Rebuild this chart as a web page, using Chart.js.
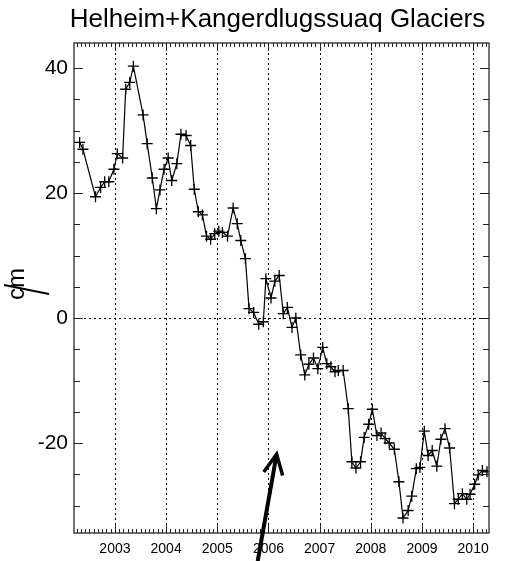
<!DOCTYPE html>
<html>
<head>
<meta charset="utf-8">
<script src="https://cdn.jsdelivr.net/npm/chart.js@4"></script>
<style>
  html, body { margin: 0; padding: 0; background: #fff; }
  #wrap { width: 515px; height: 561px; }
</style>
</head>
<body>
<div id="wrap"><canvas id="chart" width="515" height="561"></canvas></div>
<script>
"use strict";

/* global Chart */

// ===========================
// DATA
// ===========================
const titleText = "Helheim+Kangerdlugssuaq Glaciers";
const yAxisLabel = "cm";

const years = [
    2002.31, 2002.375, 2002.62, 2002.72, 2002.80, 2002.88, 2002.98, 2003.045, 2003.15, 2003.21,
    2003.29, 2003.36, 2003.55, 2003.63, 2003.73, 2003.81, 2003.88, 2003.96, 2004.04, 2004.11,
    2004.21, 2004.29, 2004.39, 2004.48, 2004.55, 2004.63, 2004.71, 2004.79, 2004.87, 2004.95,
    2005.03, 2005.10, 2005.20, 2005.31, 2005.39, 2005.46, 2005.55, 2005.62, 2005.71, 2005.81,
    2005.90, 2005.95, 2006.05, 2006.125, 2006.21, 2006.29, 2006.37, 2006.46, 2006.535, 2006.63,
    2006.71, 2006.79, 2006.88, 2006.965, 2007.06, 2007.14, 2007.22, 2007.30, 2007.365, 2007.46,
    2007.56, 2007.63, 2007.71, 2007.80, 2007.87, 2007.96, 2008.03, 2008.12, 2008.20, 2008.28,
    2008.36, 2008.46, 2008.55, 2008.63, 2008.73, 2008.80, 2008.89, 2008.96, 2009.045, 2009.12,
    2009.20, 2009.29, 2009.37, 2009.45, 2009.54, 2009.635, 2009.71, 2009.79, 2009.875, 2009.94,
    2010.03, 2010.10, 2010.18, 2010.27
];

const heights = [
    28.1, 27.0, 19.4, 20.9, 21.8, 21.8, 23.8, 26.3, 25.6, 36.6,
    37.7, 40.3, 32.5, 27.9, 22.4, 17.5, 20.5, 23.8, 25.6, 22.0,
    24.7, 29.4, 29.2, 27.6, 20.6, 17.0, 16.5, 13.1, 12.6, 13.5,
    13.9, 13.7, 13.1, 17.6, 15.1, 12.4, 9.5, 1.5, 0.9, -1.0,
    -0.6, 6.3, 3.2, 5.9, 6.8, 0.7, 1.7, -1.5, 0.0, -5.9,
    -9.1, -7.4, -6.4, -8.1, -4.7, -7.3, -7.8, -8.6, -8.4, -8.4,
    -14.5, -23.0, -24.0, -23.0, -19.1, -17.0, -14.6, -18.8, -18.4, -19.3,
    -20.0, -21.0, -26.2, -32.0, -30.8, -28.5, -24.1, -23.9, -18.1, -22.0,
    -21.2, -23.7, -19.4, -17.7, -20.8, -29.7, -29.0, -28.1, -29.0, -28.2,
    -26.6, -25.1, -24.4, -24.6
];

const xTickYears = [2003, 2004, 2005, 2006, 2007, 2008, 2009, 2010];
const yTickValues = [-20, 0, 20, 40];
const yMinorStep = 5;

// Arrow annotation (data coordinates: tail -> tip)
const arrowTail = { x: 2005.79, y: -38.9 };
const arrowTip = { x: 2006.16, y: -21.8 };

// ✅ Configurations
const X_MIN = 2002.2;
const X_MAX = 2010.31;
const Y_MIN = -34.4;
const Y_MAX = 44;

const points = years.map((yr, i) => ({ x: yr, y: heights[i] }));

// ===========================
// FRAME / TICKS / ANNOTATIONS PLUGIN
// ===========================
const framePlugin = {
    id: "frame",
    beforeDatasetsDraw(chart) {
        const { ctx, chartArea: a, scales: { x, y } } = chart;
        ctx.save();
        ctx.strokeStyle = "#000";
        ctx.lineWidth = 1;
        ctx.setLineDash([2, 3]);
        xTickYears.forEach(v => {
            const px = Math.round(x.getPixelForValue(v)) + 0.5;
            ctx.beginPath();
            ctx.moveTo(px, a.top);
            ctx.lineTo(px, a.bottom);
            ctx.stroke();
        });
        const py0 = Math.round(y.getPixelForValue(0)) + 0.5;
        ctx.beginPath();
        ctx.moveTo(a.left, py0);
        ctx.lineTo(a.right, py0);
        ctx.stroke();
        ctx.restore();
    },
    afterDatasetsDraw(chart) {
        const { ctx, chartArea: a, scales: { x, y } } = chart;
        ctx.save();

        // ✅ Frame
        ctx.strokeStyle = "#444";
        ctx.lineWidth = 1.5;
        ctx.strokeRect(a.left, a.top, a.right - a.left, a.bottom - a.top);

        // ✅ Monthly minor ticks (top and bottom)
        ctx.strokeStyle = "#222";
        ctx.lineWidth = 1;
        for (let m = Math.ceil(X_MIN * 12); m / 12 <= X_MAX; m++) {
            const px = Math.round(x.getPixelForValue(m / 12)) + 0.5;
            const isYear = m % 12 === 0;
            const len = isYear ? 8 : 4;
            ctx.beginPath();
            ctx.moveTo(px, a.bottom);
            ctx.lineTo(px, a.bottom - len);
            ctx.moveTo(px, a.top);
            ctx.lineTo(px, a.top + len);
            ctx.stroke();
        }

        // ✅ Y ticks every 5 (left and right)
        for (let v = Math.ceil(Y_MIN / yMinorStep) * yMinorStep; v <= Y_MAX; v += yMinorStep) {
            const py = Math.round(y.getPixelForValue(v)) + 0.5;
            const len = v % 20 === 0 ? 9 : 6;
            ctx.beginPath();
            ctx.moveTo(a.left, py);
            ctx.lineTo(a.left + len, py);
            ctx.moveTo(a.right, py);
            ctx.lineTo(a.right - len, py);
            ctx.stroke();
        }

        // ✅ Title (centred over plot)
        ctx.fillStyle = "#000";
        ctx.font = "26px 'Liberation Sans', Arial, sans-serif";
        ctx.textAlign = "center";
        ctx.textBaseline = "alphabetic";
        ctx.fillText(titleText, (a.left + a.right) / 2 - 4, 27);

        // ✅ Y axis label with its stray slash
        ctx.save();
        ctx.translate(17, 284);
        ctx.rotate(-Math.PI / 2);
        ctx.font = "24px 'Liberation Sans', Arial, sans-serif";
        ctx.textBaseline = "middle";
        ctx.fillText(yAxisLabel, 0, 0);
        ctx.restore();
        ctx.lineWidth = 2;
        ctx.strokeStyle = "#000";
        ctx.beginPath();
        ctx.moveTo(4, 285);
        ctx.lineTo(49, 294);
        ctx.stroke();

        // ✅ Arrow
        const tx = x.getPixelForValue(arrowTip.x);
        const ty = y.getPixelForValue(arrowTip.y);
        const sx = x.getPixelForValue(arrowTail.x);
        const sy = y.getPixelForValue(arrowTail.y);
        const ang = Math.atan2(ty - sy, tx - sx);
        const head = 22;
        const spread = 0.45;
        ctx.lineWidth = 4;
        ctx.lineCap = "butt";
        ctx.beginPath();
        ctx.moveTo(sx, sy);
        ctx.lineTo(tx, ty);
        ctx.stroke();
        ctx.lineWidth = 3.5;
        ctx.lineJoin = "miter";
        ctx.beginPath();
        ctx.moveTo(tx - head * Math.cos(ang - spread), ty - head * Math.sin(ang - spread));
        ctx.lineTo(tx, ty);
        ctx.lineTo(tx - head * Math.cos(ang + spread), ty - head * Math.sin(ang + spread));
        ctx.stroke();

        ctx.restore();
    }
};

// ===========================
// CHART
// ===========================
const ctx = document.getElementById("chart").getContext("2d");

new Chart(ctx, {
    type: "scatter",
    data: {
        datasets: [{
            data: points,
            showLine: true,
            borderColor: "#000",
            borderWidth: 1.2,
            tension: 0,
            pointStyle: "cross",
            pointRadius: 5.5,
            pointBorderWidth: 1.3,
            pointBorderColor: "#000",
            pointBackgroundColor: "#000"
        }]
    },
    options: {
        responsive: false,
        animation: false,
        devicePixelRatio: 1,
        layout: { padding: { top: 43, right: 26, bottom: 0, left: 0 } },
        plugins: {
            legend: { display: false },
            tooltip: { enabled: false },
            title: { display: false }
        },
        scales: {
            x: {
                type: "linear",
                min: X_MIN,
                max: X_MAX,
                afterBuildTicks: s => { s.ticks = xTickYears.map(v => ({ value: v })); },
                afterFit: s => { s.height = 28; },
                grid: { display: false, drawTicks: false },
                border: { display: false },
                ticks: {
                    color: "#000",
                    padding: 8,
                    maxRotation: 0,
                    font: { family: "'Liberation Sans', Arial, sans-serif", size: 14 },
                    callback: v => String(v)
                }
            },
            y: {
                min: Y_MIN,
                max: Y_MAX,
                afterBuildTicks: s => { s.ticks = yTickValues.map(v => ({ value: v })); },
                afterFit: s => { s.width = 74; },
                grid: { display: false, drawTicks: false },
                border: { display: false },
                ticks: {
                    color: "#000",
                    padding: 6,
                    font: { family: "'Liberation Sans', Arial, sans-serif", size: 21 },
                    callback: v => String(v)
                }
            }
        }
    },
    plugins: [framePlugin]
});
</script>
</body>
</html>
